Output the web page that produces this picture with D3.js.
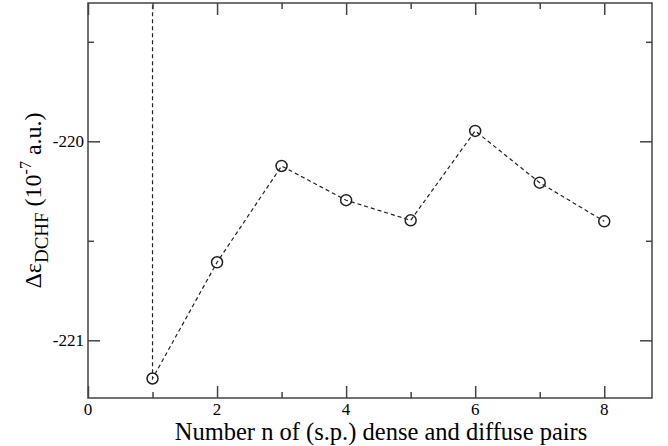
<!DOCTYPE html>
<html>
<head>
<meta charset="utf-8">
<script src="https://cdn.jsdelivr.net/npm/d3@7"></script>
<style>
body { margin: 0; background: #fff; font-family: "Liberation Serif", serif; }
text { font-family: "Liberation Serif", serif !important; }
</style>
</head>
<body>
<div id="chart"></div>
<script>
// data
var nValues = [1, 2, 3, 4, 5, 6, 7, 8];
var deltaE = [-221.192, -220.608, -220.124, -220.296, -220.397, -219.948, -220.208, -220.402];
// the curve comes down from far above the frame onto the first point
var offScaleTop = -219.0;
var xTicks = [0, 2, 4, 6, 8];
var xMinorTicks = [1, 3, 5, 7];
var yTicks = [-221, -220];
var yMinorTicks = [-220.5, -219.5];

var width = 668, height = 446;
var margin = {left: 88, right: 16, top: 3, bottom: 48};
var serif = "Liberation Serif";

var svg = d3.select("#chart").append("svg")
	.attr("width", width)
	.attr("height", height);

var x = d3.scaleLinear().domain([0, 8.74]).range([margin.left, width - margin.right]);
var y = d3.scaleLinear().domain([-221.29, -219.305]).range([height - margin.bottom, margin.top]);

var x0 = x.range()[0], x1 = x.range()[1];
var y0 = y.range()[0], y1 = y.range()[1];

svg.append("clipPath").attr("id", "plot")
	.append("rect")
	.attr("x", x0).attr("y", y1)
	.attr("width", x1 - x0).attr("height", y0 - y1);

// series line
var pts = [[nValues[0], offScaleTop]].concat(nValues.map(function(n, i) { return [n, deltaE[i]]; }));
var line = d3.line().x(function(d) { return x(d[0]); }).y(function(d) { return y(d[1]); });

svg.append("path")
	.attr("clip-path", "url(#plot)")
	.attr("d", line(pts))
	.attr("fill", "none")
	.attr("stroke", "#222")
	.attr("stroke-width", 1.2)
	.attr("stroke-dasharray", "4,3");

svg.selectAll("circle.pt")
	.data(nValues)
	.enter()
	.append("circle")
	.attr("class", "pt")
	.attr("cx", function(d) { return x(d); })
	.attr("cy", function(d, i) { return y(deltaE[i]); })
	.attr("r", 5.5)
	.attr("fill", "none")
	.attr("stroke", "#222")
	.attr("stroke-width", 1.5);

// frame with inward ticks on all four sides
var axisColor = "#444";
function styleAxis(g) {
	g.attr("font-family", serif);
	g.select(".domain").remove();
	g.selectAll(".tick text").remove();
	g.selectAll(".tick line").attr("stroke", axisColor).attr("stroke-width", 1.5);
}

svg.append("g").attr("transform", "translate(0," + y0 + ")")
	.call(d3.axisTop(x).tickValues(xTicks).tickSize(12))
	.call(styleAxis);
svg.append("g").attr("transform", "translate(0," + y0 + ")")
	.call(d3.axisTop(x).tickValues(xMinorTicks).tickSize(6))
	.call(styleAxis);
svg.append("g").attr("transform", "translate(0," + y1 + ")")
	.call(d3.axisBottom(x).tickValues(xTicks).tickSize(12))
	.call(styleAxis);
svg.append("g").attr("transform", "translate(0," + y1 + ")")
	.call(d3.axisBottom(x).tickValues(xMinorTicks).tickSize(6))
	.call(styleAxis);

svg.append("g").attr("transform", "translate(" + x0 + ",0)")
	.call(d3.axisRight(y).tickValues(yTicks).tickSize(12))
	.call(styleAxis);
svg.append("g").attr("transform", "translate(" + x0 + ",0)")
	.call(d3.axisRight(y).tickValues(yMinorTicks).tickSize(6))
	.call(styleAxis);
svg.append("g").attr("transform", "translate(" + x1 + ",0)")
	.call(d3.axisLeft(y).tickValues(yTicks).tickSize(12))
	.call(styleAxis);
svg.append("g").attr("transform", "translate(" + x1 + ",0)")
	.call(d3.axisLeft(y).tickValues(yMinorTicks).tickSize(6))
	.call(styleAxis);

svg.append("rect")
	.attr("x", x0).attr("y", y1)
	.attr("width", x1 - x0).attr("height", y0 - y1)
	.attr("fill", "none")
	.attr("stroke", axisColor)
	.attr("stroke-width", 1.5);

// tick labels
svg.selectAll("text.xl")
	.data(xTicks)
	.enter()
	.append("text")
	.attr("class", "xl")
	.attr("x", function(d) { return x(d); })
	.attr("y", y0 + 17)
	.attr("text-anchor", "middle")
	.attr("font-family", serif)
	.attr("font-size", 17)
	.text(function(d) { return d; });

svg.selectAll("text.yl")
	.data(yTicks)
	.enter()
	.append("text")
	.attr("class", "yl")
	.attr("x", x0 - 4)
	.attr("y", function(d) { return y(d); })
	.attr("dy", "0.35em")
	.attr("text-anchor", "end")
	.attr("font-family", serif)
	.attr("font-size", 17)
	.text(function(d) { return d; });

// axis titles
svg.append("text")
	.attr("x", (x0 + x1) / 2 + 11)
	.attr("y", height - 6)
	.attr("text-anchor", "middle")
	.attr("font-family", serif)
	.attr("font-size", 24.5)
	.text("Number n of (s.p.) dense and diffuse pairs");

var yt = svg.append("text")
	.attr("transform", "translate(41," + ((y0 + y1) / 2) + ") rotate(-90)")
	.attr("text-anchor", "middle")
	.attr("font-family", serif)
	.attr("font-size", 24);
yt.append("tspan").text("\u0394\u03b5");
yt.append("tspan").attr("dy", 7).attr("font-size", 19).text("DCHF");
yt.append("tspan").attr("dy", -7).text(" (10");
yt.append("tspan").attr("dy", -10).attr("font-size", 16).text("-7");
yt.append("tspan").attr("dy", 10).text("  a.u.)");
</script>
</body>
</html>
